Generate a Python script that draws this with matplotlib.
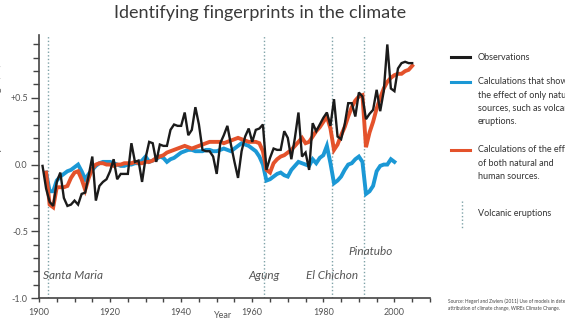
import matplotlib
matplotlib.use("Agg")
import matplotlib.pyplot as plt
from matplotlib.lines import Line2D
import numpy as np

# Global temperature change (deg C), observed and modelled
obs_years = list(range(1901, 2006))
observations = [
    -0.01, -0.18, -0.28, -0.31, -0.13, -0.06, -0.25, -0.31, -0.30, -0.27,
    -0.30, -0.22, -0.21, -0.08, 0.06, -0.27, -0.16, -0.13, -0.11, -0.05,
    0.04, -0.11, -0.07, -0.07, -0.07, 0.16, 0.02, 0.03, -0.13, 0.05,
    0.17, 0.16, 0.02, 0.15, 0.14, 0.14, 0.26, 0.30, 0.29, 0.29,
    0.39, 0.22, 0.26, 0.43, 0.30, 0.11, 0.10, 0.10, 0.06, -0.07,
    0.16, 0.22, 0.29, 0.15, 0.02, -0.10, 0.10, 0.21, 0.27, 0.17,
    0.26, 0.27, 0.30, -0.04, 0.05, 0.12, 0.11, 0.11, 0.25, 0.20,
    0.04, 0.20, 0.39, 0.06, 0.09, -0.04, 0.31, 0.25, 0.30, 0.35,
    0.39, 0.29, 0.49, 0.21, 0.19, 0.30, 0.46, 0.46, 0.36, 0.54,
    0.51, 0.34, 0.38, 0.41, 0.56, 0.40, 0.55, 0.90, 0.57, 0.55,
    0.72, 0.76, 0.77, 0.76, 0.76,
]

natural_years = list(range(1902, 2001))
natural_only = [
    -0.06, -0.20, -0.20, -0.12, -0.09, -0.07, -0.05, -0.04, -0.02,
    0.00, -0.05, -0.11, -0.07, -0.04, -0.01, 0.01, 0.02, 0.02, 0.02,
    0.01, 0.00, -0.01, -0.01, 0.00, 0.00, 0.01, 0.01, 0.03, 0.06,
    0.02, 0.03, 0.04, 0.06, 0.05, 0.02, 0.04, 0.05, 0.07, 0.09,
    0.10, 0.11, 0.11, 0.10, 0.10, 0.10, 0.11, 0.11, 0.10, 0.10,
    0.11, 0.12, 0.11, 0.10, 0.12, 0.14, 0.16, 0.15, 0.14, 0.12,
    0.10, 0.06, 0.00, -0.12, -0.11, -0.09, -0.07, -0.06, -0.08, -0.09,
    -0.04, -0.01, 0.02, 0.01, 0.00, -0.01, 0.04, 0.01, 0.05, 0.07,
    0.14, 0.01, -0.14, -0.12, -0.09, -0.04, 0.00, 0.01, 0.04, 0.06,
    0.02, -0.22, -0.20, -0.16, -0.05, -0.01, 0.00, 0.00, 0.04, 0.02,
]

combined_years = list(range(1902, 2006))
natural_and_human = [
    -0.06, -0.30, -0.32, -0.17, -0.17, -0.17, -0.16, -0.10, -0.06,
    -0.05, -0.11, -0.19, -0.10, -0.03, 0.00, 0.01, 0.01, 0.00, 0.00,
    -0.01, 0.00, 0.00, 0.01, 0.01, 0.01, 0.02, 0.01, 0.01, 0.02,
    0.02, 0.03, 0.05, 0.06, 0.07, 0.09, 0.10, 0.11, 0.12, 0.13,
    0.14, 0.13, 0.12, 0.13, 0.14, 0.15, 0.16, 0.17, 0.17, 0.17,
    0.17, 0.16, 0.17, 0.18, 0.19, 0.20, 0.19, 0.18, 0.17, 0.17,
    0.17, 0.16, 0.10, -0.04, -0.06, 0.01, 0.04, 0.06, 0.07, 0.09,
    0.11, 0.14, 0.17, 0.20, 0.16, 0.17, 0.21, 0.25, 0.28, 0.32,
    0.36, 0.27, 0.11, 0.15, 0.22, 0.28, 0.36, 0.43, 0.48, 0.51,
    0.52, 0.13, 0.24, 0.32, 0.42, 0.50, 0.57, 0.62, 0.65, 0.67,
    0.68, 0.68, 0.70, 0.71, 0.74,
]

eruption_names = ["Santa Maria", "Agung", "El Chichon", "Pinatubo"]
eruption_years = [1902, 1963, 1982, 1991]

BLACK = "#1b1b1b"
BLUE = "#1b98d5"
ORANGE = "#e4522b"
DOTS = "#7fa3a8"
GREY = "#555555"

plt.rcParams["font.family"] = ["Lato", "DejaVu Sans"]

fig = plt.figure(figsize=(5.65, 3.25), dpi=100)
ax = fig.add_axes([0.069, 0.083, 0.692, 0.809])

for yr in eruption_years:
    ax.axvline(yr + 0.4, color=DOTS, lw=1.0, ls=(0, (1, 1.6)), zorder=1)

ax.plot(natural_years, natural_only, color=BLUE, lw=2.8, zorder=2,
        solid_joinstyle="miter")
ax.plot(combined_years, natural_and_human, color=ORANGE, lw=2.8, zorder=3,
        solid_joinstyle="miter")
ax.plot(obs_years, observations, color=BLACK, lw=1.7, zorder=4,
        solid_joinstyle="miter")

# eruption labels
label_pos = {"Santa Maria": (1901.0, -0.83, "left"),
             "Agung": (1963.4, -0.83, "center"),
             "El Chichon": (1982.4, -0.83, "center"),
             "Pinatubo": (1993.2, -0.65, "center")}
for name in eruption_names:
    x, y, ha = label_pos[name]
    ax.text(x, y, name, style="italic", fontsize=8.5, color=GREY,
            ha=ha, va="center")

ax.set_xlim(1900, 2010)
ax.set_ylim(-1.0, 0.97)
ax.set_xticks([1900, 1920, 1940, 1960, 1980, 2000])
ax.set_xticks(np.arange(1900, 2011, 5), minor=True)
ax.set_yticks([-1.0, -0.5, 0.0, 0.5])
ax.set_yticklabels(["-1.0", "-0.5", "0.0", "+0.5"])
ax.set_yticks(np.arange(-1.0, 0.95, 0.1), minor=True)
ax.tick_params(axis="both", which="both", colors="#444444", labelcolor=GREY,
               labelsize=6.5, width=1.0)
ax.tick_params(axis="x", which="both", length=3, pad=4)
ax.tick_params(axis="y", which="major", length=6, pad=2)
ax.tick_params(axis="y", which="minor", length=4)
for side in ["top", "right"]:
    ax.spines[side].set_visible(False)
for side in ["left", "bottom"]:
    ax.spines[side].set_color("#444444")
    ax.spines[side].set_linewidth(1.2)

fig.text(223 / 565, 1 - 316 / 325, "Year", fontsize=6.5, color=GREY,
         ha="center", va="center")
fig.text(0.003, 1 - 117 / 325, "Temperature change (\u00b0C)", rotation=90,
         fontsize=7, color=GREY, ha="right", va="center")

fig.text(260 / 565, 1 - 13 / 325, "Identifying fingerprints in the climate",
         fontsize=13, fontweight="normal", color="#3a3a3a",
         ha="center", va="center")


def px(x, y):
    return x / 565, 1 - y / 325


# legend drawn beside the axes
legend_rows = [
    (BLACK, 57, ["Observations"]),
    (BLUE, 82, ["Calculations that show", "the effect of only natural",
                "sources, such as volcanic", "eruptions."]),
    (ORANGE, 150, ["Calculations of the effect", "of both natural and",
                   "human sources."]),
]
for color, y0, lines in legend_rows:
    (x1, yy), (x2, _) = px(451, y0), px(470, y0)
    fig.add_artist(Line2D([x1, x2], [yy, yy], color=color, lw=2.2,
                          transform=fig.transFigure))
    for i, line in enumerate(lines):
        tx, ty = px(478, y0 + i * 13.3)
        fig.text(tx, ty, line, fontsize=6.5, color="#333333",
                 ha="left", va="center")

(vx, vy1), (_, vy2) = px(462, 201), px(462, 229)
fig.add_artist(Line2D([vx, vx], [vy1, vy2], color=DOTS, lw=1.0,
                      ls=(0, (1, 1.6)), transform=fig.transFigure))
tx, ty = px(478, 214)
fig.text(tx, ty, "Volcanic eruptions", fontsize=6.5, color="#333333",
         ha="left", va="center")

sx, sy = px(448, 305)
fig.text(sx, sy, "Source: Hegerl and Zwiers (2011) Use of models in detection and\n"
         "attribution of climate change, WIREs Climate Change.",
         fontsize=3.4, color="#444444", ha="left", va="center",
         linespacing=1.5)

fig.savefig("out.png", dpi=100)
